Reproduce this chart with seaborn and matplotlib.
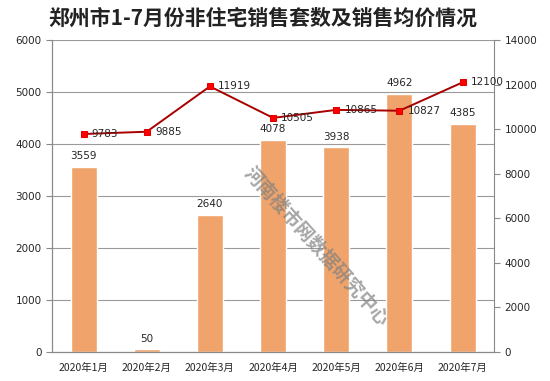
import numpy as np
import matplotlib
matplotlib.use("Agg")
import matplotlib.pyplot as plt
import seaborn as sns

# data
months = ["2020年1月", "2020年2月", "2020年3月", "2020年4月", "2020年5月", "2020年6月", "2020年7月"]
units = [3559, 50, 2640, 4078, 3938, 4962, 4385]
prices = [9783, 9885, 11919, 10505, 10865, 10827, 12100]

sns.set_style("white")
plt.rcParams['font.family'] = ['DejaVu Sans', 'Noto Sans CJK SC']

fig = plt.figure(figsize=(5.5, 3.81), dpi=100)
ax = fig.add_axes([0.0945, 0.076, 0.804, 0.819])

sns.barplot(x=months, y=units, color="#F0A46C", saturation=1, width=0.41, ax=ax)
ax.set_ylim(0, 6000)
ax.set_yticks(range(0, 6001, 1000))
ax.yaxis.grid(True, color="#9a9a9a", linewidth=0.8)
ax.set_axisbelow(True)
ax.set_xlim(-0.5, len(months) - 0.5)
for i, v in enumerate(units):
    ax.text(i, v + 110, str(v), ha="center", va="bottom", fontsize=7.5)

ax2 = ax.twinx()
x = np.arange(len(months))
sns.lineplot(x=x, y=prices, color="#A80000", linewidth=1.4, marker="s",
             markersize=5, markerfacecolor="#FF0000", markeredgecolor="#E00000", ax=ax2)
ax2.set_ylim(0, 14000)
ax2.set_yticks(range(0, 14001, 2000))
for i, v in enumerate(prices):
    ax2.text(i + 0.13, v, str(v), ha="left", va="center", fontsize=7.5)

for a in (ax, ax2):
    for s in a.spines.values():
        s.set_color("#8a8a8a")
        s.set_linewidth(0.8)
    a.spines["top"].set_visible(False)
    a.tick_params(axis="y", labelsize=7.5, length=4, width=0.8, color="#8a8a8a", direction="out")
ax.spines["right"].set_visible(False)
ax.set_xticks(x)
ax.set_xticklabels(months, fontsize=7.5, family=['Noto Sans CJK SC', 'DejaVu Sans'])
ax.set_xticks(np.arange(-0.5, len(months)), minor=True)
ax.tick_params(axis="x", which="major", length=0, pad=8)
ax.tick_params(axis="x", which="minor", length=4, width=0.8, color="#8a8a8a", direction="out")
ax.tick_params(axis="y", left=True)
ax2.tick_params(axis="y", right=True)

fig.text(0.478, 0.952, "郑州市1-7月份非住宅销售套数及销售均价情况", ha="center", va="center",
         fontsize=15, fontweight="bold", color="#222222", family=['Noto Sans CJK SC', 'DejaVu Sans'])

# watermark
fig.text(0.575, 0.352, "河南楼市网数据研究中心", ha="center", va="center", rotation=-48,
         fontsize=13.5, fontweight="bold", color="#808080", alpha=0.7,
         family=['Noto Sans CJK SC', 'DejaVu Sans'])

fig.savefig("out.png", dpi=100)
